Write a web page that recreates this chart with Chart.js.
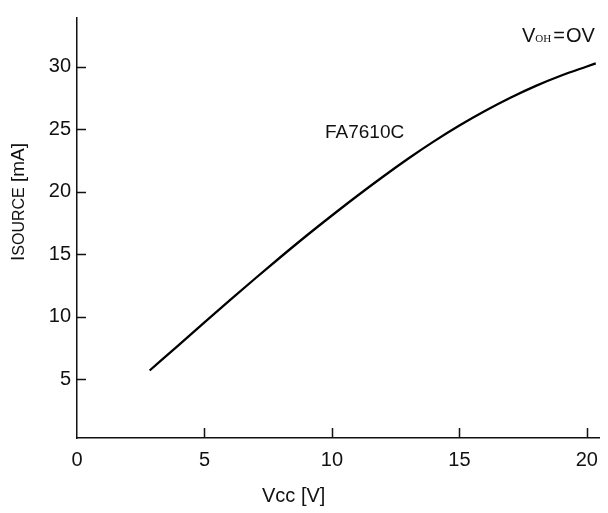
<!DOCTYPE html>
<html>
<head>
<meta charset="utf-8">
<script src="https://cdn.jsdelivr.net/npm/chart.js@4/dist/chart.umd.min.js"></script>
<style>
  html, body { margin: 0; padding: 0; background: #fff; }
  #chart { display: block; }
</style>
</head>
<body>
<canvas id="chart" width="608" height="513"></canvas>
<script>
// values
const vcc = [2.85, 4, 5, 6, 7, 8, 9, 10, 11, 12, 13, 14, 15, 16, 17, 18, 19, 20, 20.35];
const isource = [5.7, 7.75, 9.55, 11.33, 13.08, 14.8, 16.48, 18.1, 19.68, 21.2, 22.66, 24.03, 25.3, 26.46, 27.52, 28.47, 29.3, 30.02, 30.27];

const xTicks = [0, 5, 10, 15, 20];
const yTicks = [5, 10, 15, 20, 25, 30];

const FONT = '"Liberation Sans", Arial, sans-serif';

// inward tick marks, axis titles and the two labels
const decorations = {
  id: 'decorations',
  afterDraw(chart) {
    const { ctx, chartArea, scales: { x, y } } = chart;
    ctx.save();
    ctx.strokeStyle = '#111';
    ctx.lineWidth = 1.5;
    ctx.beginPath();
    xTicks.forEach(v => {
      if (v === 0) return;
      const px = Math.round(x.getPixelForValue(v)) + 0.5;
      ctx.moveTo(px, chartArea.bottom);
      ctx.lineTo(px, chartArea.bottom - 10);
    });
    yTicks.forEach(v => {
      const py = Math.round(y.getPixelForValue(v)) + 0.5;
      ctx.moveTo(chartArea.left, py);
      ctx.lineTo(chartArea.left + 9, py);
    });
    ctx.stroke();

    ctx.fillStyle = '#111';
    ctx.textBaseline = 'alphabetic';

    // x title
    ctx.font = '20px ' + FONT;
    ctx.textAlign = 'left';
    ctx.fillText('Vcc [V]', 262, 502);

    // y title, rotated, I + small SOURCE
    ctx.save();
    ctx.translate(24, 261);
    ctx.rotate(-Math.PI / 2);
    ctx.textAlign = 'left';
    let cx = 0;
    ctx.font = '19px ' + FONT;
    ctx.fillText('I', cx, 0);
    cx += ctx.measureText('I').width;
    ctx.font = '16px ' + FONT;
    ctx.fillText('SOURCE', cx, 0);
    cx += ctx.measureText('SOURCE').width;
    ctx.font = '19px ' + FONT;
    ctx.fillText(' [mA]', cx, 0);
    ctx.restore();

    // curve label
    ctx.font = '19px ' + FONT;
    ctx.fillText('FA7610C', 325, 138);

    // condition label V_OH = OV
    let vx = 522;
    ctx.font = '20px ' + FONT;
    ctx.fillText('V', vx, 42);
    vx += ctx.measureText('V').width;
    ctx.font = '11px "Liberation Serif", serif';
    ctx.fillText('OH', vx, 42);
    vx += ctx.measureText('OH').width + 2;
    ctx.font = '20px ' + FONT;
    ctx.fillText('=', vx, 42);
    vx += ctx.measureText('=').width + 1;
    ctx.fillText('OV', vx, 42);
    ctx.restore();
  }
};

new Chart(document.getElementById('chart'), {
  type: 'line',
  data: {
    datasets: [{
      data: vcc.map((v, i) => ({ x: v, y: isource[i] })),
      borderColor: '#000',
      borderWidth: 2.3,
      pointRadius: 0,
      fill: false,
      cubicInterpolationMode: 'monotone'
    }]
  },
  options: {
    responsive: false,
    animation: false,
    layout: { padding: { top: 7, right: 1, left: 0, bottom: 0 } },
    plugins: {
      legend: { display: false },
      tooltip: { enabled: false }
    },
    scales: {
      x: {
        type: 'linear',
        min: 0,
        max: 20.5,
        grid: { display: false, drawTicks: false, tickLength: 0 },
        border: { display: true, color: '#111', width: 1.5 },
        afterBuildTicks: scale => { scale.ticks = xTicks.map(v => ({ value: v })); },
        afterFit: scale => { scale.height = 75; },
        ticks: {
          padding: 10,
          color: '#111',
          maxRotation: 0,
          font: { family: FONT, size: 20 }
        }
      },
      y: {
        type: 'linear',
        min: 0.3,
        max: 33.9,
        grid: { display: false, drawTicks: false, tickLength: 0 },
        border: { display: true, color: '#111', width: 1.5 },
        afterBuildTicks: scale => { scale.ticks = yTicks.map(v => ({ value: v })); },
        afterFit: scale => { scale.width = 77; },
        ticks: {
          padding: 6,
          color: '#111',
          font: { family: FONT, size: 20 }
        }
      }
    }
  },
  plugins: [decorations]
});
</script>
</body>
</html>
